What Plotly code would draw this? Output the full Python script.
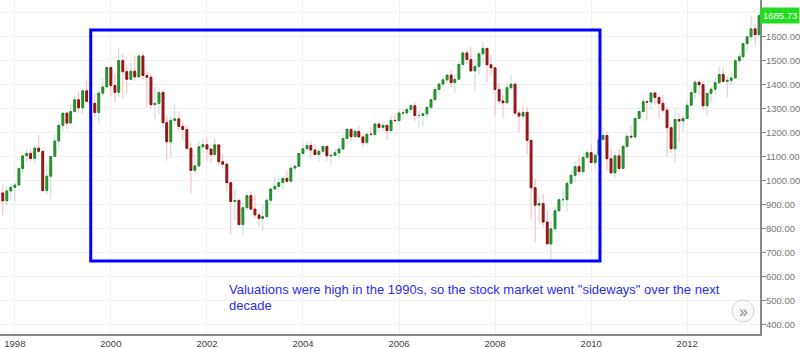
import pandas as pd
import plotly.graph_objects as go

# Monthly S&P 500, Oct 1997 - Jul 2013
months = pd.date_range("1997-10-01", "2013-07-01", freq="MS")

opens = [947.28, 914.62, 955.40,
 970.43, 980.28, 1049.34, 1101.75, 1111.75, 1090.82, 1133.84, 1120.67, 957.28, 1017.01, 1098.67, 1163.63,
 1229.23, 1279.64, 1238.33, 1286.37, 1335.18, 1301.84, 1372.71, 1328.72, 1320.41, 1282.71, 1362.93, 1388.91,
 1469.25, 1394.46, 1366.42, 1498.58, 1452.43, 1420.60, 1454.60, 1430.83, 1517.68, 1436.51, 1429.40, 1314.95,
 1320.28, 1366.01, 1239.94, 1160.33, 1249.46, 1255.82, 1224.42, 1211.23, 1133.58, 1040.94, 1059.78, 1139.45,
 1148.08, 1130.20, 1106.73, 1147.39, 1076.92, 1067.14, 989.82, 911.62, 916.07, 815.28, 885.76, 936.31,
 879.82, 855.70, 841.15, 848.18, 916.92, 963.59, 974.50, 990.31, 1008.01, 995.97, 1050.71, 1058.20,
 1111.92, 1131.13, 1144.94, 1126.21, 1107.30, 1120.68, 1140.84, 1101.72, 1104.24, 1114.58, 1130.20, 1173.82,
 1211.92, 1181.27, 1203.60, 1180.59, 1156.85, 1191.50, 1191.33, 1234.18, 1220.33, 1228.81, 1207.01, 1249.48,
 1248.29, 1280.08, 1280.66, 1294.83, 1310.61, 1270.09, 1270.20, 1276.66, 1303.82, 1335.85, 1377.94, 1400.63,
 1418.30, 1438.24, 1406.82, 1420.86, 1482.37, 1530.62, 1503.35, 1455.27, 1473.99, 1526.75, 1549.38, 1481.14,
 1468.36, 1378.55, 1330.63, 1322.70, 1385.59, 1400.38, 1280.00, 1267.38, 1282.83, 1166.36, 968.75, 896.24,
 903.25, 825.88, 735.09, 797.87, 872.81, 919.14, 919.32, 987.48, 1020.62, 1057.08, 1036.19, 1095.63,
 1115.10, 1073.87, 1104.49, 1169.43, 1186.69, 1089.41, 1030.71, 1101.60, 1049.33, 1141.20, 1183.26, 1180.55,
 1257.64, 1286.12, 1327.22, 1325.83, 1363.61, 1345.20, 1320.64, 1292.28, 1218.89, 1131.42, 1253.30, 1246.96,
 1257.60, 1312.41, 1365.68, 1408.47, 1397.91, 1310.33, 1362.16, 1379.32, 1406.58, 1440.67, 1412.16, 1416.18,
 1426.19, 1498.11, 1514.68, 1569.19, 1597.57, 1630.74, 1606.28]

highs = [983.12, 973.72, 986.25,
 992.65, 1050.66, 1105.65, 1132.98, 1130.52, 1145.15, 1190.58, 1121.01, 1066.11, 1102.15, 1192.97, 1244.93,
 1280.37, 1283.75, 1316.55, 1350.72, 1367.56, 1372.93, 1420.33, 1357.09, 1361.41, 1373.13, 1424.98, 1473.13,
 1478.00, 1444.55, 1552.87, 1527.19, 1481.51, 1488.92, 1517.32, 1525.21, 1530.09, 1454.82, 1438.46, 1389.06,
 1383.37, 1376.38, 1267.42, 1269.30, 1315.93, 1286.62, 1239.78, 1226.27, 1155.40, 1110.61, 1163.38, 1173.62,
 1176.97, 1130.20, 1173.94, 1147.84, 1106.59, 1070.00, 994.46, 965.00, 924.02, 907.44, 951.57, 954.28,
 935.05, 864.64, 895.90, 924.24, 965.38, 1015.33, 1015.41, 1011.01, 1040.29, 1053.79, 1063.65, 1112.56,
 1155.38, 1158.98, 1163.23, 1150.57, 1127.74, 1146.34, 1140.84, 1109.68, 1131.54, 1142.05, 1188.46, 1217.33,
 1217.80, 1212.44, 1229.11, 1191.88, 1199.56, 1219.59, 1245.15, 1245.86, 1243.13, 1233.34, 1270.64, 1275.80,
 1294.90, 1297.57, 1310.88, 1318.16, 1326.70, 1290.68, 1280.42, 1306.74, 1340.28, 1389.45, 1407.89, 1431.81,
 1441.61, 1461.57, 1438.89, 1498.02, 1535.56, 1540.56, 1555.90, 1503.89, 1538.74, 1576.09, 1552.76, 1523.57,
 1471.77, 1404.05, 1359.68, 1404.57, 1440.24, 1404.05, 1292.17, 1313.15, 1303.04, 1167.03, 1007.51, 934.73,
 943.85, 875.01, 832.98, 888.70, 930.17, 956.23, 996.68, 1039.47, 1080.15, 1101.36, 1113.69, 1130.38,
 1150.45, 1112.42, 1180.16, 1219.80, 1205.13, 1131.23, 1120.95, 1129.24, 1148.90, 1196.14, 1227.08, 1262.60,
 1302.67, 1344.07, 1332.28, 1364.56, 1370.58, 1345.20, 1356.48, 1307.38, 1229.29, 1292.66, 1277.55, 1269.37,
 1333.47, 1378.04, 1419.15, 1422.38, 1415.32, 1363.46, 1391.74, 1426.68, 1474.51, 1470.96, 1434.27, 1448.00,
 1509.94, 1530.94, 1570.28, 1597.57, 1687.18, 1654.19, 1698.78]

lows = [855.27, 894.00, 921.85,
 912.83, 980.28, 1032.00, 1076.70, 1074.39, 1074.67, 1114.30, 950.00, 939.98, 923.32, 1098.67, 1136.89,
 1205.46, 1211.89, 1234.67, 1282.46, 1281.16, 1276.28, 1323.96, 1268.53, 1263.39, 1233.70, 1348.36, 1387.38,
 1350.14, 1325.07, 1346.62, 1339.40, 1361.09, 1420.60, 1413.89, 1427.60, 1419.44, 1305.79, 1294.90, 1254.07,
 1274.62, 1228.33, 1081.19, 1091.99, 1232.00, 1203.03, 1165.54, 1124.87, 944.75, 1026.76, 1054.31, 1114.53,
 1081.66, 1074.36, 1106.73, 1063.46, 1048.96, 952.92, 775.68, 833.44, 815.28, 768.63, 872.34, 871.70,
 840.34, 806.29, 788.90, 847.85, 902.83, 963.42, 962.10, 960.84, 990.36, 995.97, 1031.20, 1058.20,
 1105.08, 1124.44, 1087.16, 1105.31, 1076.32, 1113.32, 1078.78, 1060.72, 1099.18, 1090.19, 1127.60, 1173.76,
 1163.75, 1180.95, 1176.92, 1136.15, 1146.18, 1188.30, 1183.55, 1201.07, 1205.35, 1168.20, 1201.07, 1246.59,
 1245.74, 1253.61, 1268.42, 1280.74, 1245.34, 1219.29, 1224.54, 1261.30, 1290.93, 1327.10, 1360.98, 1385.93,
 1403.97, 1389.42, 1363.98, 1416.37, 1476.70, 1484.18, 1454.25, 1370.60, 1439.29, 1489.56, 1406.10, 1435.65,
 1270.05, 1317.27, 1256.98, 1320.00, 1373.07, 1272.00, 1200.44, 1248.64, 1106.39, 839.80, 741.02, 815.69,
 804.47, 734.52, 666.79, 783.32, 866.10, 888.86, 869.32, 978.51, 991.97, 1019.95, 1029.38, 1085.89,
 1071.59, 1044.50, 1101.36, 1169.00, 1040.78, 1028.33, 1010.91, 1039.70, 1048.18, 1131.87, 1173.00, 1173.64,
 1257.62, 1282.86, 1249.05, 1294.70, 1311.80, 1258.07, 1282.86, 1101.54, 1114.22, 1074.77, 1158.66, 1202.37,
 1257.60, 1312.41, 1340.03, 1357.38, 1291.98, 1266.74, 1325.41, 1354.65, 1396.56, 1403.28, 1343.35, 1398.11,
 1426.19, 1485.01, 1501.48, 1536.03, 1581.28, 1560.33, 1604.57]

closes = [914.62, 955.40, 970.43,
 980.28, 1049.34, 1101.75, 1111.75, 1090.82, 1133.84, 1120.67, 957.28, 1017.01, 1098.67, 1163.63, 1229.23,
 1279.64, 1238.33, 1286.37, 1335.18, 1301.84, 1372.71, 1328.72, 1320.41, 1282.71, 1362.93, 1388.91, 1469.25,
 1394.46, 1366.42, 1498.58, 1452.43, 1420.60, 1454.60, 1430.83, 1517.68, 1436.51, 1429.40, 1314.95, 1320.28,
 1366.01, 1239.94, 1160.33, 1249.46, 1255.82, 1224.42, 1211.23, 1133.58, 1040.94, 1059.78, 1139.45, 1148.08,
 1130.20, 1106.73, 1147.39, 1076.92, 1067.14, 989.82, 911.62, 916.07, 815.28, 885.76, 936.31, 879.82,
 855.70, 841.15, 848.18, 916.92, 963.59, 974.50, 990.31, 1008.01, 995.97, 1050.71, 1058.20, 1111.92,
 1131.13, 1144.94, 1126.21, 1107.30, 1120.68, 1140.84, 1101.72, 1104.24, 1114.58, 1130.20, 1173.82, 1211.92,
 1181.27, 1203.60, 1180.59, 1156.85, 1191.50, 1191.33, 1234.18, 1220.33, 1228.81, 1207.01, 1249.48, 1248.29,
 1280.08, 1280.66, 1294.83, 1310.61, 1270.09, 1270.20, 1276.66, 1303.82, 1335.85, 1377.94, 1400.63, 1418.30,
 1438.24, 1406.82, 1420.86, 1482.37, 1530.62, 1503.35, 1455.27, 1473.99, 1526.75, 1549.38, 1481.14, 1468.36,
 1378.55, 1330.63, 1322.70, 1385.59, 1400.38, 1280.00, 1267.38, 1282.83, 1166.36, 968.75, 896.24, 903.25,
 825.88, 735.09, 797.87, 872.81, 919.14, 919.32, 987.48, 1020.62, 1057.08, 1036.19, 1095.63, 1115.10,
 1073.87, 1104.49, 1169.43, 1186.69, 1089.41, 1030.71, 1101.60, 1049.33, 1141.20, 1183.26, 1180.55, 1257.64,
 1286.12, 1327.22, 1325.83, 1363.61, 1345.20, 1320.64, 1292.28, 1218.89, 1131.42, 1253.30, 1246.96, 1257.60,
 1312.41, 1365.68, 1408.47, 1397.91, 1310.33, 1362.16, 1379.32, 1406.58, 1440.67, 1412.16, 1416.18, 1426.19,
 1498.11, 1514.68, 1569.19, 1597.57, 1630.74, 1606.28, 1685.73]

y_tick_values = [400, 500, 600, 700, 800, 900, 1000, 1100, 1200, 1300, 1400, 1500, 1600]
extra_grid_values = [1700]
last_price_label = "1685.73"
note_lines = ['Valuations were high in the 1990s, so the stock market went "sideways" over the next', 'decade']
box_x = ["1999-08-01", "2010-03-09"]
box_y = [664, 1626]

body_top = [max(o, c) for o, c in zip(opens, closes)]
body_bot = [min(o, c) for o, c in zip(opens, closes)]

axis_font = "Arial, Liberation Sans"

fig = go.Figure()
# wicks (light colours)
fig.add_trace(go.Candlestick(
    x=months, open=opens, high=highs, low=lows, close=closes,
    increasing=dict(line=dict(color="#c3d8de", width=1), fillcolor="#c3d8de"),
    decreasing=dict(line=dict(color="#f6b8bc", width=1), fillcolor="#f6b8bc"),
    showlegend=False, hoverinfo="skip"))
# bodies
fig.add_trace(go.Candlestick(
    x=months, open=opens, high=body_top, low=body_bot, close=closes,
    increasing=dict(line=dict(color="#1f8a22", width=1), fillcolor="#2a9e2c"),
    decreasing=dict(line=dict(color="#8e1010", width=1), fillcolor="#a51a1a"),
    showlegend=False, hoverinfo="skip"))

for gv in extra_grid_values:
    fig.add_shape(type="line", xref="paper", yref="y", x0=0, x1=1, y0=gv, y1=gv,
                  line=dict(color="#f0f0f0", width=1), layer="below")

fig.add_shape(type="rect", xref="x", yref="y", x0=box_x[0], x1=box_x[1], y0=box_y[0], y1=box_y[1],
              line=dict(color="#0000ff", width=3), fillcolor="rgba(0,0,0,0)")

for i, (line_text, cy) in enumerate(zip(note_lines, [289.5, 305.0])):
    fig.add_annotation(xref="paper", yref="paper", x=227/760, y=(334-cy)/334, xanchor="left",
                       yanchor="middle", text=line_text, showarrow=False, align="left",
                       font=dict(family="Arial, Liberation Sans", size=13, color="#2c2cf2"))

fig.add_annotation(xref="paper", yref="y", x=1, y=closes[-1], xanchor="left", yanchor="middle",
                   xshift=0, text=last_price_label, showarrow=False, bgcolor="#22dd22",
                   borderpad=2, font=dict(family=axis_font, size=9.5, color="white"))

# scroll button
fig.add_shape(type="circle", xref="paper", yref="paper", x0=732/760, x1=754/760,
              y0=(334-322)/334, y1=(334-300)/334, line=dict(color="#d2d2d2", width=1), fillcolor="#f9f9f9")
fig.add_annotation(xref="paper", yref="paper", x=743/760, y=(334-311)/334, text="»", showarrow=False,
                   xanchor="center", yanchor="middle",
                   font=dict(family="Arial, Liberation Sans", size=16, color="#888888"))

fig.update_layout(
    width=800, height=348, margin=dict(l=0, r=40, t=0, b=14, autoexpand=False),
    paper_bgcolor="white", plot_bgcolor="white", hovermode=False, showlegend=False,
    font=dict(family="Arial, Liberation Sans"),
    xaxis=dict(type="date", range=["1997-09-10", "2013-07-08"], rangeslider=dict(visible=False),
               tick0="1998-01-01", dtick="M24", tickformat="%Y", showgrid=True, gridcolor="#f0f0f0",
               showline=True, linecolor="#888888", linewidth=2, ticks="", zeroline=False,
               automargin=False, ticklabelstandoff=0,
               tickfont=dict(family=axis_font, size=9.5, color="#444444")),
    yaxis=dict(side="right", range=[359.6, 1751], tickvals=y_tick_values, tickformat=".2f",
               showgrid=True, gridcolor="#f0f0f0", showline=True, linecolor="#888888", linewidth=2,
               ticks="outside", ticklen=4, tickcolor="#888888", zeroline=False, automargin=False,
               ticklabelstandoff=-2,
               tickfont=dict(family=axis_font, size=9.5, color="#777777")),
)

fig.write_html("out.html")
